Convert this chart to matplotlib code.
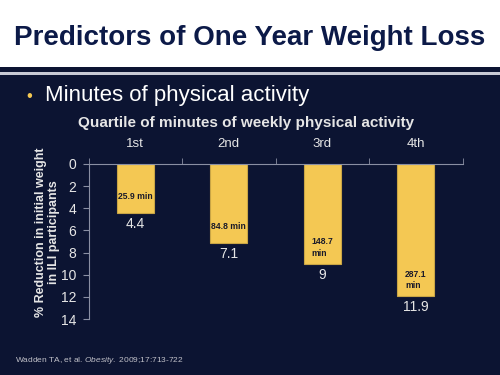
import matplotlib.pyplot as plt

# data
quartiles = ["1st", "2nd", "3rd", "4th"]
reduction = [4.4, 7.1, 9.0, 11.9]
value_labels = ["4.4", "7.1", "9", "11.9"]
minutes_labels = ["25.9 min", "84.8 min", "148.7\nmin", "287.1\nmin"]
y_ticks = [0, 2, 4, 6, 8, 10, 12, 14]

bg = "#0c1432"
navy = "#0c1a48"
gold = "#f4c853"
light = "#e6e6e6"
axis_col = "#8a8fa3"
foot_col = "#c0c0c8"

plt.rcParams['font.family'] = ['Liberation Sans', 'DejaVu Sans']
plt.rcParams['mathtext.fontset'] = 'custom'
plt.rcParams['mathtext.rm'] = 'Liberation Sans'
plt.rcParams['mathtext.it'] = 'Liberation Sans:italic'

fig = plt.figure(figsize=(5, 3.75), dpi=100)
fig.patch.set_facecolor(bg)

# white header band with the double rule under it
fig.patches.append(plt.Rectangle((0, 1 - 67 / 375), 1, 67 / 375, transform=fig.transFigure,
                                 facecolor="white", edgecolor="none", zorder=0))
fig.patches.append(plt.Rectangle((0, 1 - 75 / 375), 1, 3 / 375, transform=fig.transFigure,
                                 facecolor="#c8cad4", edgecolor="none", zorder=0))
fig.text(0.5, 1 - 38 / 375, "Predictors of One Year Weight Loss", ha="center", va="center",
         fontsize=20, fontweight="bold", color=navy)

fig.text(0.058, 1 - 96 / 375, "\u2022", ha="center", va="center", fontsize=12, color=gold)
fig.text(0.09, 1 - 96 / 375, "Minutes of physical activity", ha="left", va="center",
         fontsize=16, color="white")

fig.text(0.492, 1 - 123 / 375, "Quartile of minutes of weekly physical activity", ha="center",
         va="center", fontsize=11, fontweight="bold", color=light)

ax = fig.add_axes([0.177, 0.149, 0.748, 0.414])
ax.set_facecolor(bg)
x = range(len(quartiles))
ax.bar(x, reduction, width=0.4, color=gold, edgecolor="#c9a545", linewidth=0.8, zorder=2)

for i, v in enumerate(reduction):
    ax.text(i, v + 1.0, value_labels[i], ha="center", va="center", fontsize=10, color=light)
    ax.text(i, v - 1.45, minutes_labels[i], ha="center", va="center", multialignment="left",
            fontsize=6.2, fontweight="bold", color="#1a1a2a", linespacing=1.35)

ax.set_xlim(-0.5, 3.5)
ax.set_ylim(14, 0)
ax.set_yticks(y_ticks)
ax.xaxis.tick_top()
ax.set_xticks(list(x))
ax.set_xticklabels(quartiles)
ax.set_xticks([-0.5, 0.5, 1.5, 2.5, 3.5], minor=True)
ax.tick_params(axis="x", which="major", length=0, pad=10, labelsize=9.5, labelcolor=light)
ax.tick_params(axis="x", which="minor", length=4, color=axis_col, direction="out")
ax.tick_params(axis="y", length=4, color=axis_col, pad=5, labelsize=10, labelcolor=light)

for side in ["right", "bottom"]:
    ax.spines[side].set_visible(False)
for side in ["top", "left"]:
    ax.spines[side].set_color(axis_col)

ax.text(-0.11, 0.558, "% Reduction in initial weight\nin ILI participants", transform=ax.transAxes,
        rotation=90, ha="center", va="center", fontsize=9, fontweight="bold", color=light,
        linespacing=1.1)

# footnote, journal name in italics via mathtext so it sits on the same baseline
fig.text(0.03, 1 - 361 / 375, r"Wadden TA, et al. $\it{Obesity.}$ 2009;17:713-722",
         ha="left", va="center", fontsize=6, color=foot_col)

plt.savefig("out.png", dpi=100, facecolor=bg)
